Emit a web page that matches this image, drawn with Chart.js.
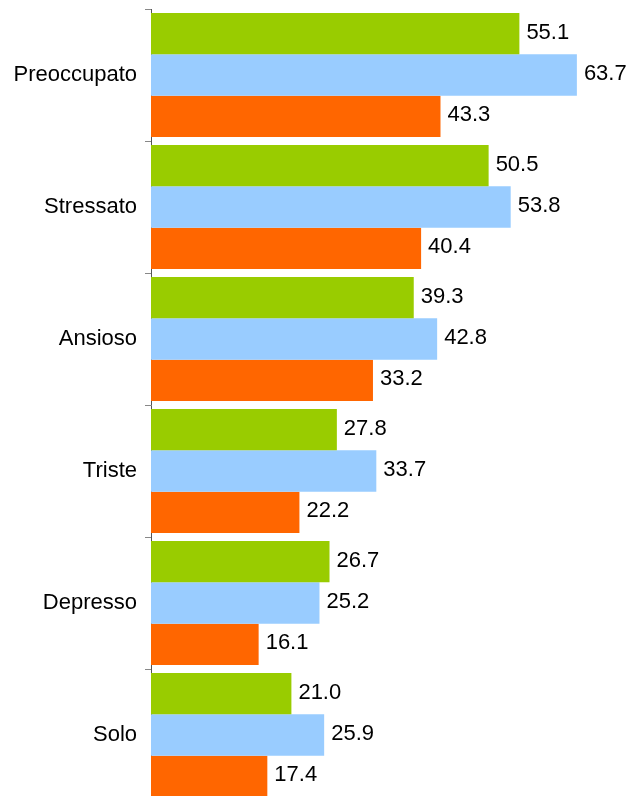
<!DOCTYPE html>
<html lang="it">
<head>
<meta charset="utf-8">
<title>Stati d'animo</title>
<script src="https://cdn.jsdelivr.net/npm/chart.js@4/dist/chart.umd.min.js"></script>
<style>
  html, body { margin: 0; padding: 0; background: #fff; overflow: hidden; }
  #wrap { width: 629px; height: 810px; }
</style>
</head>
<body>
<div id="wrap"><canvas id="mainChart" width="629" height="810"></canvas></div>
<script>
const categorie = ["Preoccupato", "Stressato", "Ansioso", "Triste", "Depresso", "Solo"];
const serieVerde = [55.1, 50.5, 39.3, 27.8, 26.7, 21.0];
const serieAzzurra = [63.7, 53.8, 42.8, 33.7, 25.2, 25.9];
const serieArancio = [43.3, 40.4, 33.2, 22.2, 16.1, 17.4];

const FONT = "'Liberation Sans', Arial, sans-serif";

// scrive il valore a destra di ogni barra
const etichetteValori = {
  id: "etichetteValori",
  afterDatasetsDraw(chart) {
    const ctx = chart.ctx;
    ctx.save();
    ctx.font = `22px ${FONT}`;
    ctx.fillStyle = "#000";
    ctx.textAlign = "left";
    ctx.textBaseline = "middle";
    chart.data.datasets.forEach((ds, i) => {
      chart.getDatasetMeta(i).data.forEach((bar, j) => {
        ctx.fillText(Number(ds.data[j]).toFixed(1), bar.x + 7, bar.y - 1);
      });
    });
    ctx.restore();
  },
};

const ctx = document.getElementById("mainChart").getContext("2d");

new Chart(ctx, {
  type: "bar",
  data: {
    labels: categorie,
    datasets: [
      { label: "Serie 1", data: serieVerde, backgroundColor: "#99cc00" },
      { label: "Serie 2", data: serieAzzurra, backgroundColor: "#99ccff" },
      { label: "Serie 3", data: serieArancio, backgroundColor: "#ff6600" },
    ],
  },
  options: {
    indexAxis: "y",
    responsive: false,
    animation: false,
    devicePixelRatio: 1,
    layout: { padding: { top: 9, right: 10, bottom: 9, left: 0 } },
    datasets: {
      bar: { categoryPercentage: 0.94, barPercentage: 1.0, borderWidth: 0 },
    },
    plugins: {
      legend: { display: false },
      tooltip: { enabled: false },
    },
    scales: {
      x: {
        display: false,
        min: 0,
        max: 70,
      },
      y: {
        afterFit(scale) {
          // larghezza fissa e nessun margine extra sopra/sotto per le etichette
          scale.width = 151;
          scale.paddingTop = 0;
          scale.paddingBottom = 0;
        },
        grid: {
          display: true,
          drawOnChartArea: false,
          drawTicks: true,
          tickLength: 6,
          color: "#888",
        },
        border: { display: true, color: "#555", width: 1 },
        ticks: {
          color: "#000",
          padding: 8,
          font: { family: FONT, size: 22 },
        },
      },
    },
  },
  plugins: [etichetteValori],
});
</script>
</body>
</html>
